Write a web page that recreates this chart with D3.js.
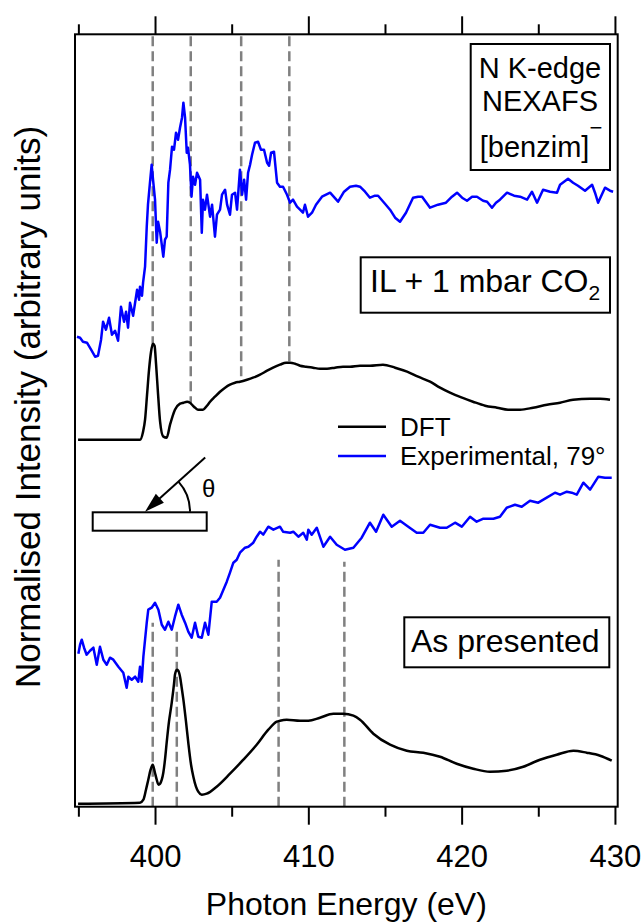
<!DOCTYPE html>
<html>
<head>
<meta charset="utf-8">
<script src="https://cdn.jsdelivr.net/npm/d3@7/dist/d3.min.js"></script>
<style>
  body { margin: 0; background: #fff; }
  svg { display: block; font-family: "Liberation Sans", Arial, sans-serif; }
</style>
</head>
<body>
<svg width="643" height="922"></svg>
<script>
// ---- data (photon energy eV, normalised intensity, arbitrary units) ----

// IL + 1 mbar CO2, experimental 79 deg
var expCO2 = [
  [394.91,4.70],[395.11,4.69],[395.30,4.65],[395.56,4.64],[395.83,4.57],[396.09,4.50],[396.28,4.51],
  [396.48,4.67],[396.61,4.85],[396.80,4.77],[397.00,4.89],[397.19,4.72],[397.39,4.76],[397.59,4.66],
  [397.78,5.00],[397.98,4.85],[398.11,4.95],[398.24,4.79],[398.37,5.04],[398.57,4.91],[398.70,5.04],
  [398.83,5.17],[398.96,5.07],[399.02,5.20],[399.15,5.11],[399.22,5.24],[399.35,5.40],[399.46,5.80],
  [399.54,6.02],[399.67,6.24],[399.78,6.42],[399.87,6.27],[400.00,6.07],[400.11,5.64],[400.20,5.85],
  [400.33,5.75],[400.44,5.62],[400.54,5.50],[400.65,5.67],[400.76,5.70],[400.87,6.24],[400.98,6.37],
  [401.11,6.60],[401.24,6.57],[401.37,6.74],[401.50,6.67],[401.63,6.79],[401.76,6.89],[401.85,7.04],
  [401.96,6.89],[402.07,6.54],[402.15,6.59],[402.28,6.42],[402.38,6.10],[402.48,6.30],[402.61,6.22],
  [402.74,6.34],[402.94,6.27],[403.05,5.74],[403.13,6.07],[403.26,5.97],[403.39,6.12],[403.59,5.90],
  [403.72,6.02],[403.91,5.70],[404.04,5.92],[404.24,5.97],[404.37,6.12],[404.57,6.17],[404.70,6.02],
  [404.89,5.92],[405.02,6.12],[405.22,6.14],[405.35,5.97],[405.54,6.37],[405.68,6.12],[405.81,6.27],
  [405.94,6.07],[406.07,6.34],[406.20,6.42],[406.33,6.52],[406.52,6.64],[406.72,6.65],[406.91,6.57],
  [407.11,6.57],[407.31,6.44],[407.44,6.41],[407.57,6.54],[407.76,6.55],[407.96,6.24],[408.15,6.20],
  [408.35,6.20],[408.61,6.12],[408.81,6.04],[409.00,6.07],[409.26,6.00],[409.46,5.97],[409.65,5.94],
  [409.78,6.02],[409.98,5.90],[410.24,5.94],[410.50,6.02],[410.89,6.10],[411.42,6.14],[411.94,6.05],
  [412.33,6.15],[412.72,6.20],[413.11,6.21],[413.37,6.20],[413.70,6.15],[414.02,6.09],[414.35,6.11],
  [414.55,6.11],[415.00,6.03],[415.33,5.97],[415.66,5.89],[415.98,5.85],[416.37,5.94],[416.83,6.09],
  [417.16,6.10],[417.42,6.10],[417.94,5.99],[418.46,6.02],[418.98,6.04],[419.37,6.10],[419.70,6.14],
  [420.03,6.09],[420.35,6.06],[420.68,6.10],[421.00,6.10],[421.40,6.06],[421.66,6.05],[421.98,5.99],
  [422.24,6.04],[422.50,6.07],[422.96,6.14],[423.42,6.11],[423.81,6.10],[424.27,6.07],[424.59,6.15],
  [424.92,6.04],[425.31,6.17],[425.77,6.15],[426.22,6.14],[426.42,6.22],[426.94,6.28],[427.27,6.24],
  [427.59,6.21],[428.05,6.16],[428.51,6.22],[428.70,6.14],[428.90,6.04],[429.35,6.19],[429.68,6.16],
  [429.88,6.15]
]

// IL + 1 mbar CO2, DFT
var dftCO2 = [
  [394.98,3.67],[399.02,3.67],[399.22,3.75],[399.35,3.87],[399.48,4.12],[399.61,4.37],[399.74,4.55],
  [399.87,4.63],[399.97,4.61],[400.07,4.42],[400.20,4.12],[400.33,3.85],[400.54,3.70],[400.76,3.69],
  [400.98,3.82],[401.30,3.97],[401.63,4.03],[401.85,4.04],[402.09,4.05],[402.28,4.04],[402.54,4.00],
  [402.80,3.97],[403.13,3.97],[403.39,4.01],[403.59,4.05],[403.91,4.10],[404.24,4.15],[404.57,4.19],
  [404.89,4.22],[405.22,4.24],[405.54,4.25],[406.00,4.27],[406.39,4.29],[406.85,4.32],[407.31,4.36],
  [407.70,4.39],[408.15,4.42],[408.55,4.44],[408.81,4.44],[409.13,4.43],[409.46,4.41],[409.85,4.40],
  [410.31,4.39],[410.76,4.38],[411.22,4.38],[411.74,4.39],[412.26,4.40],[412.72,4.40],[413.37,4.41],
  [414.02,4.41],[414.87,4.42],[415.66,4.39],[416.44,4.35],[417.16,4.30],[417.94,4.25],[418.59,4.19],
  [419.24,4.14],[420.03,4.09],[420.74,4.05],[421.53,4.01],[422.31,3.99],[423.03,3.97],[423.81,3.97],
  [424.66,3.99],[425.57,4.02],[426.42,4.04],[427.27,4.07],[428.38,4.08],[429.03,4.08],[429.68,4.07]
]

// As presented, experimental 79 deg
var expAsPres = [
  [395.00,1.53],[395.11,1.62],[395.22,1.67],[395.37,1.59],[395.54,1.52],[395.76,1.56],[395.98,1.59],
  [396.20,1.42],[396.41,1.60],[396.63,1.47],[396.85,1.42],[397.06,1.49],[397.28,1.47],[397.61,1.40],
  [397.93,1.34],[398.15,1.19],[398.26,1.30],[398.48,1.27],[398.70,1.30],[398.91,1.25],[399.02,1.40],
  [399.13,1.25],[399.24,1.50],[399.46,1.84],[399.56,1.97],[399.78,1.99],[400.00,2.04],[400.22,1.97],
  [400.44,1.82],[400.65,1.77],[400.87,1.85],[401.09,1.77],[401.30,1.90],[401.52,2.02],[401.74,1.92],
  [401.96,1.84],[402.17,1.75],[402.39,1.69],[402.61,1.84],[402.82,1.70],[403.05,1.69],[403.26,1.84],
  [403.48,1.72],[403.70,2.05],[404.02,2.05],[404.24,2.09],[404.46,2.17],[404.68,2.25],[404.89,2.34],
  [405.11,2.44],[405.33,2.47],[405.54,2.54],[405.87,2.59],[406.09,2.60],[406.41,2.64],[406.63,2.70],
  [406.85,2.75],[407.06,2.72],[407.39,2.80],[407.72,2.77],[408.15,2.80],[408.35,2.75],[408.81,2.74],
  [409.02,2.75],[409.35,2.70],[409.67,2.74],[409.90,2.67],[410.00,2.77],[410.22,2.72],[410.55,2.79],
  [410.98,2.60],[411.42,2.70],[411.85,2.62],[412.39,2.57],[412.94,2.59],[413.48,2.69],[414.02,2.84],
  [414.42,2.75],[414.89,2.92],[415.44,2.80],[415.98,2.86],[416.52,2.80],[417.07,2.74],[417.50,2.74],
  [417.94,2.82],[418.59,2.79],[419.03,2.79],[419.57,2.84],[420.01,2.80],[420.55,2.90],[420.98,2.85],
  [421.42,2.88],[422.07,2.88],[422.50,2.90],[422.94,2.99],[423.48,3.02],[423.92,3.00],[424.46,3.06],
  [425.00,3.04],[425.55,3.09],[426.09,3.14],[426.42,3.12],[426.86,3.15],[427.18,3.14],[427.51,3.12],
  [427.94,3.24],[428.38,3.17],[428.92,3.30],[429.35,3.29],[429.79,3.29]
]

// As presented, DFT
var dftAsPres = [
  [394.98,0.03],[399.02,0.04],[399.24,0.07],[399.41,0.17],[399.56,0.27],[399.71,0.37],[399.85,0.42],
  [399.98,0.35],[400.11,0.27],[400.23,0.22],[400.33,0.23],[400.44,0.27],[400.54,0.34],[400.65,0.47],
  [400.76,0.64],[400.91,0.85],[401.09,1.04],[401.24,1.23],[401.30,1.32],[401.42,1.37],[401.52,1.36],
  [401.63,1.30],[401.74,1.19],[401.85,1.07],[402.02,0.85],[402.17,0.64],[402.35,0.42],[402.50,0.30],
  [402.67,0.20],[402.82,0.15],[403.05,0.12],[403.37,0.13],[404.02,0.20],[404.89,0.33],[405.76,0.47],
  [406.63,0.62],[407.39,0.77],[407.94,0.85],[408.15,0.86],[408.59,0.87],[409.46,0.86],[410.00,0.86],
  [410.76,0.89],[411.63,0.93],[412.28,0.93],[412.94,0.91],[413.37,0.87],[414.24,0.73],[415.33,0.62],
  [416.42,0.56],[417.50,0.54],[418.59,0.50],[419.68,0.43],[420.76,0.38],[421.85,0.35],[422.94,0.36],
  [424.02,0.40],[425.11,0.47],[426.20,0.52],[427.29,0.56],[428.16,0.54],[429.03,0.51],[429.79,0.46]
]

// dashed guides: upper ones drop from the frame to the CO2 DFT curve,
// lower ones rise from the axis to the given intensity
var guidesCO2 = [399.85, 402.33, 405.62, 408.76]
var guidesAsPres = [[399.85, 1.84], [401.42, 1.80], [408.06, 2.47], [412.35, 2.45]]

var majorTicks = [400, 410, 420, 430]
var minorTicks = [395, 405, 415, 425]
var xDomain = [394.78, 430.18]
var yDomain = [0, 7.724]

// ---- layout ----
var W = 643, H = 922
var m = {top: 34.3, right: 25.3, bottom: 115.3, left: 75}
var x0 = m.left, x1 = W - m.right, y0 = m.top, y1 = H - m.bottom

var svg = d3.select('svg')

var xScale = d3.scaleLinear().domain(xDomain).range([x0, x1])
var yScale = d3.scaleLinear().domain(yDomain).range([y1, y0])

function valueAt(data, e) {
  var i = d3.bisector(d => d[0]).left(data, e)
  if (i <= 0) return data[0][1]
  if (i >= data.length) return data[data.length - 1][1]
  var a = data[i - 1], b = data[i]
  return a[1] + (b[1] - a[1]) * (e - a[0]) / (b[0] - a[0])
}

// dashed guides
var dash = svg.append('g')
  .attr('stroke', '#808080')
  .attr('stroke-width', 2.5)
  .attr('stroke-dasharray', '10,5')

dash.selectAll('.gTop')
  .data(guidesCO2)
  .enter()
  .append('line')
  .attr('x1', d => xScale(d)).attr('x2', d => xScale(d))
  .attr('y1', yScale(yDomain[1]) + 2)
  .attr('y2', d => yScale(valueAt(dftCO2, d)))

dash.selectAll('.gBot')
  .data(guidesAsPres)
  .enter()
  .append('line')
  .attr('x1', d => xScale(d[0])).attr('x2', d => xScale(d[0]))
  .attr('y1', yScale(0))
  .attr('y2', d => yScale(d[1]))

// spectra
var rough = d3.line().x(d => xScale(d[0])).y(d => yScale(d[1]))
var smooth = d3.line().x(d => xScale(d[0])).y(d => yScale(d[1])).curve(d3.curveMonotoneX)

var series = [
  {data: expCO2, color: '#0000ff', line: rough},
  {data: dftCO2, color: '#000000', line: smooth},
  {data: expAsPres, color: '#0000ff', line: rough},
  {data: dftAsPres, color: '#000000', line: smooth}
]

svg.selectAll('.spec')
  .data(series)
  .enter()
  .append('path')
  .attr('class', 'spec')
  .attr('fill', 'none')
  .attr('stroke', d => d.color)
  .attr('stroke-width', 2.5)
  .attr('stroke-linejoin', 'round')
  .attr('d', d => d.line(d.data))

// axes (bottom with labels, top mirrored)
function tickAxis(axis, y, size, labels) {
  var g = svg.append('g')
    .attr('transform', `translate(0,${y})`)
    .call(axis.tickSize(size).tickPadding(20).tickFormat(labels ? d3.format('d') : ''))
  g.select('.domain').remove()
  g.selectAll('line').attr('stroke', '#000').attr('stroke-width', 2)
  g.selectAll('text')
    .attr('fill', '#000')
    .style('font-size', '31px')
    .style('font-family', '"Liberation Sans", Arial, sans-serif')
}
tickAxis(d3.axisBottom(xScale).tickValues(majorTicks), y1, 18, true)
tickAxis(d3.axisBottom(xScale).tickValues(minorTicks), y1, 10, false)
tickAxis(d3.axisTop(xScale).tickValues(majorTicks), y0, 18, false)
tickAxis(d3.axisTop(xScale).tickValues(minorTicks), y0, 10, false)

// frame
svg.append('rect')
  .attr('x', x0).attr('y', y0)
  .attr('width', x1 - x0).attr('height', y1 - y0)
  .attr('fill', 'none').attr('stroke', '#000').attr('stroke-width', 2)

// axis titles
svg.append('text')
  .attr('x', (x0 + x1) / 2).attr('y', 915)
  .attr('text-anchor', 'middle')
  .style('font-size', '32px')
  .text('Photon Energy (eV)')

svg.append('text')
  .attr('transform', 'translate(40,407) rotate(-90)')
  .attr('text-anchor', 'middle')
  .style('font-size', '35px')
  .text('Normalised Intensity (arbitrary units)')

// annotation boxes
function box(bx, by, bw, bh) {
  svg.append('rect')
    .attr('x', bx).attr('y', by).attr('width', bw).attr('height', bh)
    .attr('fill', '#fff').attr('stroke', '#000').attr('stroke-width', 2)
}

box(470.7, 44, 139.3, 126)
var t1 = svg.append('g').attr('text-anchor', 'middle').style('font-size', '29px')
t1.append('text').attr('x', 540).attr('y', 78.3).text('N K-edge')
t1.append('text').attr('x', 540).attr('y', 111).text('NEXAFS')
var bz = t1.append('text').attr('x', 541).attr('y', 156.7)
bz.append('tspan').text('[benzim]')
bz.append('tspan').attr('dy', -22).style('font-size', '22px').text('\u2212')

box(360.7, 257.3, 249.3, 55.4)
var t2 = svg.append('text').attr('x', 370).attr('y', 292).style('font-size', '32px')
t2.append('tspan').text('IL + 1 mbar CO')
t2.append('tspan').attr('dy', 8).style('font-size', '21px').text('2')

box(404.3, 617.3, 205, 50)
svg.append('text').attr('x', 411).attr('y', 652).style('font-size', '32px').text('As presented')

// legend
var legend = [
  {label: 'DFT', color: '#000000'},
  {label: 'Experimental, 79\u00b0', color: '#0000ff'}
]
var lg = svg.selectAll('.lg')
  .data(legend)
  .enter()
  .append('g')
  .attr('transform', (d, i) => `translate(338,${426.7 + i * 29.3})`)
lg.append('line')
  .attr('x1', 0).attr('x2', 48)
  .attr('stroke', d => d.color).attr('stroke-width', 2.5)
lg.append('text')
  .attr('x', 62).attr('y', 9)
  .style('font-size', '26px')
  .text(d => d.label)

// sample / incidence angle sketch
var tip = [145, 511.7], ang = 42 * Math.PI / 180
var sk = svg.append('g')
sk.append('rect')
  .attr('x', 92.7).attr('y', 512.3).attr('width', 114).attr('height', 18.4)
  .attr('fill', '#fff').attr('stroke', '#000').attr('stroke-width', 2)
sk.append('line')
  .attr('x1', tip[0] + 81 * Math.cos(ang)).attr('y1', tip[1] - 81 * Math.sin(ang))
  .attr('x2', tip[0] + 14 * Math.cos(ang)).attr('y2', tip[1] - 14 * Math.sin(ang))
  .attr('stroke', '#000').attr('stroke-width', 2)
var hl = 20, hw = 6
var bxp = tip[0] + hl * Math.cos(ang), byp = tip[1] - hl * Math.sin(ang)
sk.append('path')
  .attr('d', `M${tip[0]},${tip[1]}L${bxp - hw * Math.sin(ang)},${byp - hw * Math.cos(ang)}L${bxp + hw * Math.sin(ang)},${byp + hw * Math.cos(ang)}Z`)
  .attr('fill', '#000')
var arcPath = d3.path()
arcPath.arc(tip[0], tip[1], 45, -ang, 0)
sk.append('path')
  .attr('d', arcPath.toString())
  .attr('fill', 'none').attr('stroke', '#000').attr('stroke-width', 2)
sk.append('text')
  .attr('x', 202).attr('y', 497)
  .style('font-size', '24px')
  .text('\u03b8')
</script>
</body>
</html>
